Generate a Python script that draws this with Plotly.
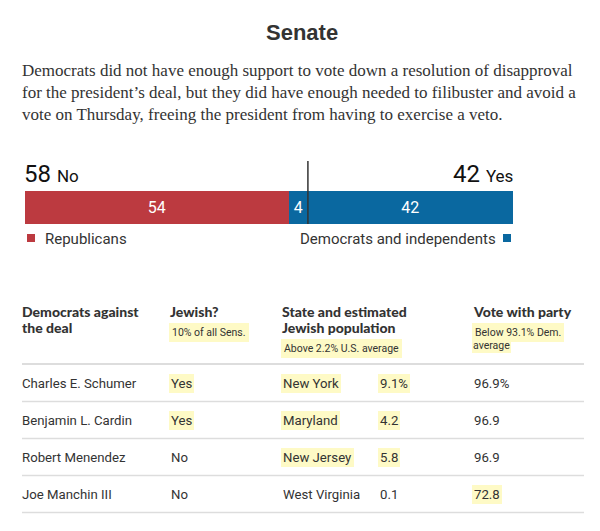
import plotly.graph_objects as go

W, H = 600, 531

# ---------------- data ----------------
segment_names = ["Republicans", "Democrats against the deal", "Democrats and independents"]
segment_values = [54, 4, 42]
segment_colors = ["#bc3a40", "#0a68a0", "#0a68a0"]
segment_side = ["No", "No", "Yes"]

senators = ["Charles E. Schumer", "Benjamin L. Cardin", "Robert Menendez", "Joe Manchin III"]
jewish = ["Yes", "Yes", "No", "No"]
states = ["New York", "Maryland", "New Jersey", "West Virginia"]
jewish_pop = [9.1, 4.2, 5.8, 0.1]
vote_with_party = [96.9, 96.9, 96.9, 72.8]

us_jewish_avg = 2.2
dem_party_avg = 93.1
jewish_share_senate = 10

title = "Senate"
subtitle_lines = [
    "Democrats did not have enough support to vote down a resolution of disapproval",
    "for the president\u2019s deal, but they did have enough needed to filibuster and avoid a",
    "vote on Thursday, freeing the president from having to exercise a veto.",
]

# ---------------- helpers ----------------
def X(px):
    return px / W

def Y(py):
    return 1 - py / H

TXT = "#333333"
HL = "#fefac6"
SANS = "Roboto"
BOLD_SANS = "Lato"

annotations = []
shapes = []

def ann(text, x, y, size, family=SANS, color=TXT, xanchor="left", bg=None, pad=1, weight=None):
    font = dict(size=size, family=family, color=color)
    if weight:
        font["weight"] = weight
    d = dict(text=text, x=X(x), y=Y(y), xref="paper", yref="paper",
             xanchor=xanchor, yanchor="middle", showarrow=False,
             font=font, borderpad=pad, borderwidth=0)
    if bg:
        d["bgcolor"] = bg
    annotations.append(d)

fig = go.Figure()

# ---------------- bar ----------------
for name, val, col in zip(segment_names, segment_values, segment_colors):
    fig.add_trace(go.Bar(
        x=[val], y=[0], orientation="h", name=name,
        marker=dict(color=col, line=dict(width=0)),
        text=[str(val)], textposition="inside", insidetextanchor="middle",
        textfont=dict(color="white", size=16, family=SANS),
        width=1, hoverinfo="skip", showlegend=False,
    ))

no_total = sum(v for v, s in zip(segment_values, segment_side) if s == "No")
yes_total = sum(v for v, s in zip(segment_values, segment_side) if s == "Yes")
total = no_total + yes_total

bar_left, bar_right = 24.7, 513
bar_top, bar_bottom = 191, 224

shapes.append(dict(type="line", xref="x", yref="paper", x0=no_total, x1=no_total,
                   y0=Y(bar_bottom), y1=Y(161), line=dict(color="#333", width=1.5)))

ann(f"{no_total} <span style='font-size:17px'>No</span>", 23, 174, 24, color="#111")
ann(f"{yes_total} <span style='font-size:17px'>Yes</span>", 514, 174, 24, color="#111", xanchor="right")

# legend
shapes.append(dict(type="rect", xref="paper", yref="paper", x0=X(27), x1=X(35), y0=Y(242), y1=Y(234),
                   fillcolor=segment_colors[0], line=dict(width=0)))
ann(segment_names[0], 44, 239, 15)
shapes.append(dict(type="rect", xref="paper", yref="paper", x0=X(503), x1=X(511), y0=Y(242), y1=Y(234),
                   fillcolor=segment_colors[2], line=dict(width=0)))
ann(segment_names[2], 497, 239, 15, xanchor="right")

# ---------------- title & text ----------------
ann(f"<b>{title}</b>", 302, 33, 22, family="Liberation Sans", xanchor="center")
for i, line in enumerate(subtitle_lines):
    ann(line, 21, 70 + 22 * i, 17, family="Liberation Serif")

# ---------------- table ----------------
col_name, col_jew, col_state, col_pop, col_vote = 21, 169, 281, 378, 472

def hdr(text, x, y):
    ann(text, x, y, 14, family=BOLD_SANS, weight=900)

hdr("Democrats against", col_name, 311)
hdr("the deal", col_name, 327)
hdr("Jewish?", col_jew, 311)
ann(f"{jewish_share_senate}% of all Sens.", col_jew, 332, 10.5, bg=HL, pad=3)
hdr("State and estimated", col_state, 311)
hdr("Jewish population", col_state, 327)
ann(f"Above {us_jewish_avg}% U.S. average", col_state, 348, 10.5, bg=HL, pad=3)
hdr("Vote with party", col_vote, 311)
ann(f"Below {dem_party_avg}% Dem.", col_vote, 332, 10.5, bg=HL, pad=3)
ann("average", col_vote, 345, 10.5, bg=HL, pad=1)

line_x0, line_x1 = 22, 584
shapes.append(dict(type="line", xref="paper", yref="paper", x0=X(line_x0), x1=X(line_x1),
                   y0=Y(364), y1=Y(364), line=dict(color="#dddddd", width=2)))

row_h = 37
for i, (nm, jw, st, pop, vote) in enumerate(zip(senators, jewish, states, jewish_pop, vote_with_party)):
    yc = 383 + row_h * i
    ann(nm, col_name, yc, 13.2)
    ann(jw, col_jew, yc, 13.2, bg=HL if jw == "Yes" else None, pad=2)
    hl_pop = pop > us_jewish_avg
    ann(st, col_state, yc, 13.2, bg=HL if hl_pop else None, pad=2)
    ann(f"{pop}%" if i == 0 else f"{pop}", col_pop, yc, 13.2, bg=HL if hl_pop else None, pad=2)
    hl_vote = vote < dem_party_avg
    ann(f"{vote}%" if i == 0 else f"{vote}", col_vote, yc, 13.2, bg=HL if hl_vote else None, pad=2)
    ly = yc + 18.5
    shapes.append(dict(type="line", xref="paper", yref="paper", x0=X(line_x0), x1=X(line_x1),
                       y0=Y(ly), y1=Y(ly), line=dict(color="#dddddd", width=1.5)))

fig.update_layout(
    width=W, height=H,
    margin=dict(l=0, r=0, t=0, b=0),
    paper_bgcolor="white", plot_bgcolor="white",
    barmode="stack", bargap=0,
    xaxis=dict(domain=[X(bar_left), X(bar_right)], range=[0, total], visible=False, fixedrange=True),
    yaxis=dict(domain=[Y(bar_bottom), Y(bar_top)], range=[-0.5, 0.5], visible=False, fixedrange=True),
    annotations=annotations, shapes=shapes,
    showlegend=False,
)

fig.write_html("out.html", config={"displayModeBar": False},
               post_script="document.body.style.margin='0';document.body.style.overflow='hidden';")
